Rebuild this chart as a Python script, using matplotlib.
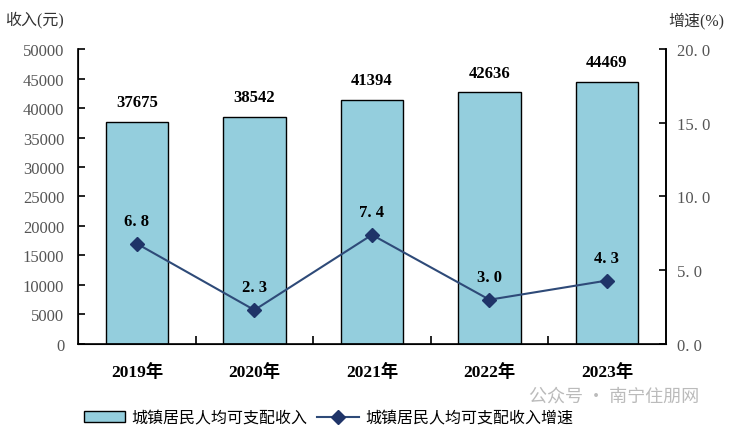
import matplotlib.pyplot as plt
from matplotlib.patches import Patch
from matplotlib.lines import Line2D

plt.rcParams['font.family'] = ['Liberation Serif', 'Noto Sans CJK SC']

years = ['2019年', '2020年', '2021年', '2022年', '2023年']
income = [37675, 38542, 41394, 42636, 44469]
growth = [6.8, 2.3, 7.4, 3.0, 4.3]
growth_labels = ['6. 8', '2. 3', '7. 4', '3. 0', '4. 3']
left_ticks = list(range(0, 50001, 5000))
right_ticks = [0, 5, 10, 15, 20]
right_tick_labels = ['0. 0', '5. 0', '10. 0', '15. 0', '20. 0']

bar_color = '#94CEDD'
line_color = '#2E4A78'
marker_color = '#1F3468'
tick_color = '#555555'

fig = plt.figure(figsize=(7.3, 4.35), dpi=100)
ax = fig.add_axes([0.107, 0.207, 0.805, 0.678])
x = list(range(len(years)))

ax.bar(x, income, width=0.53, color=bar_color, edgecolor='black', linewidth=1.0, zorder=2)
for xi, v in zip(x, income):
    ax.text(xi, v + 2000, str(v), ha='center', va='bottom', fontsize=12, fontweight='bold')

ax.set_xlim(-0.5, len(years) - 0.5)
ax.set_ylim(0, 50000)
ax.set_yticks(left_ticks)
ax.set_yticklabels([str(t) for t in left_ticks], fontsize=12, color=tick_color)
ax.set_xticks(x)
ax.set_xticklabels(years, fontsize=12.5, fontweight='bold')
ax.set_xticks([i + 0.5 for i in x[:-1]], minor=True)
ax.tick_params(axis='x', which='major', length=0, pad=14)
ax.tick_params(axis='x', which='minor', direction='in', length=6, width=1.2)
ax.tick_params(axis='y', direction='in', length=5, width=1.2, pad=10)
ax.spines['top'].set_visible(False)
for s in ['left', 'right', 'bottom']:
    ax.spines[s].set_linewidth(1.2)

ax2 = ax.twinx()
ax2.plot(x, growth, color=line_color, linewidth=1.5, marker='D', markersize=7,
         markerfacecolor=marker_color, markeredgecolor=marker_color, zorder=3)
for xi, v, lab in zip(x, growth, growth_labels):
    ax2.text(xi, v + 1.0, lab, ha='center', va='bottom', fontsize=12, fontweight='bold')
ax2.set_ylim(0, 20)
ax2.set_yticks(right_ticks)
ax2.set_yticklabels(right_tick_labels, fontsize=12, color=tick_color)
ax2.tick_params(axis='y', direction='in', length=5, width=1.2, pad=8)
ax2.spines['top'].set_visible(False)
ax2.spines['right'].set_linewidth(1.2)

fig.text(0.007, 0.955, '收入(元)', fontsize=11.5, color='#333333', va='center', ha='left')
fig.text(0.915, 0.952, '增速(%)', fontsize=11.5, color='#333333', va='center', ha='left')

handles = [
    Patch(facecolor=bar_color, edgecolor='black', linewidth=1.0),
    Line2D([0], [0], color=line_color, linewidth=1.5, marker='D', markersize=7,
           markerfacecolor=marker_color, markeredgecolor=marker_color),
]
fig.legend(handles, ['城镇居民人均可支配收入', '城镇居民人均可支配收入增速'],
           loc='center left', bbox_to_anchor=(0.095, 0.036), ncol=2, frameon=False,
           fontsize=11.5, columnspacing=0.6, handlelength=2.6, handletextpad=0.4)

fig.text(0.725, 0.088, '公众号 · 南宁住朋网', fontsize=13, color='#BBBBBB',
         va='center', family=['Noto Sans CJK SC'])

fig.savefig('out.png', dpi=100)
